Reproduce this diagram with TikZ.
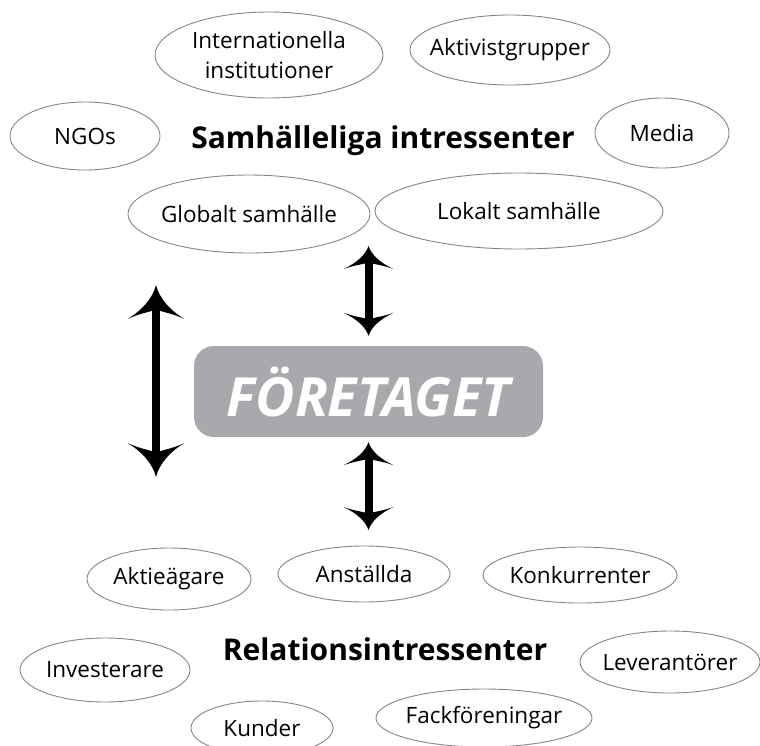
\documentclass[tikz,border=0pt]{standalone}
\usepackage{fontspec}
\setmainfont{Open Sans}
\usetikzlibrary{shapes.geometric,arrows.meta}
\definecolor{boxgray}{HTML}{A7A9AC}
\definecolor{ovalline}{HTML}{858585}

\pgfdeclarearrow{
  name = Flare,
  defaults = {length = 34pt, width = 56pt},
  parameters = {\the\pgfarrowlength,\the\pgfarrowwidth},
  setup code = {
    \pgfarrowssettipend{0pt}
    \pgfarrowssetlineend{-0.6\pgfarrowlength}
    \pgfarrowssetvisualbackend{-0.75\pgfarrowlength}
    \pgfarrowssetbackend{-\pgfarrowlength}
    \pgfarrowshullpoint{0pt}{0pt}
    \pgfarrowshullpoint{-\pgfarrowlength}{0.5\pgfarrowwidth}
    \pgfarrowshullpoint{-\pgfarrowlength}{-0.5\pgfarrowwidth}
    \pgfarrowssavethe\pgfarrowlength
    \pgfarrowssavethe\pgfarrowwidth
  },
  drawing code = {
    \pgfpathmoveto{\pgfpointorigin}
    \pgfpathcurveto{\pgfpoint{-0.4\pgfarrowlength}{0.06\pgfarrowwidth}}{\pgfpoint{-0.75\pgfarrowlength}{0.25\pgfarrowwidth}}{\pgfpoint{-\pgfarrowlength}{0.5\pgfarrowwidth}}
    \pgfpathcurveto{\pgfpoint{-0.86\pgfarrowlength}{0.32\pgfarrowwidth}}{\pgfpoint{-0.8\pgfarrowlength}{0.15\pgfarrowwidth}}{\pgfpoint{-0.75\pgfarrowlength}{0.05\pgfarrowwidth}}
    \pgfpathlineto{\pgfpoint{-0.75\pgfarrowlength}{-0.05\pgfarrowwidth}}
    \pgfpathcurveto{\pgfpoint{-0.8\pgfarrowlength}{-0.15\pgfarrowwidth}}{\pgfpoint{-0.86\pgfarrowlength}{-0.32\pgfarrowwidth}}{\pgfpoint{-\pgfarrowlength}{-0.5\pgfarrowwidth}}
    \pgfpathcurveto{\pgfpoint{-0.75\pgfarrowlength}{-0.25\pgfarrowwidth}}{\pgfpoint{-0.4\pgfarrowlength}{-0.06\pgfarrowwidth}}{\pgfpointorigin}
    \pgfpathclose
    \pgfusepathqfill
  },
}

\tikzset{
  oval/.style={draw=ovalline, line width=0.9pt, ellipse, inner sep=0pt},
  ovaltext/.style={font=\fontsize{22.5}{30}\selectfont, align=center, inner sep=0pt},
  heading/.style={font=\bfseries\fontsize{30}{36}\selectfont, anchor=base, inner sep=0pt},
  firmbox/.style={fill=boxgray, rounded corners=20pt, minimum width=349pt, minimum height=91pt, inner sep=0pt,
    text=white, font=\bfseries\itshape\fontsize{54}{60}\selectfont},
  smallarrow/.style={line width=8pt, arrows={Flare[length=23pt,width=50pt]-Flare[length=23pt,width=50pt]}},
  bigarrow/.style={line width=8pt, arrows={Flare[length=34pt,width=57pt]-Flare[length=34pt,width=57pt]}},
}

\begin{document}
\begin{tikzpicture}[x=1pt, y=-1pt]
\useasboundingbox (0,0) rectangle (760,745);

% societal stakeholders
\node[oval, minimum width=228pt, minimum height=86pt, label={[ovaltext]center:Internationella\\institutioner}] (intl) at (269,55) {};
\node[oval, minimum width=200pt, minimum height=70pt, label={[ovaltext]center:Aktivistgrupper}] (akt) at (510,50) {};
\node[oval, minimum width=150pt, minimum height=68pt, label={[ovaltext]center:NGOs}] (ngo) at (85,136) {};
\node[oval, minimum width=134pt, minimum height=70pt, label={[ovaltext]center:Media}] (media) at (662,133) {};
\node[oval, minimum width=242pt, minimum height=78pt, label={[ovaltext]center:Globalt samhälle}] (glob) at (249,214) {};
\node[oval, minimum width=288pt, minimum height=76pt, label={[ovaltext]center:Lokalt samhälle}] (lok) at (519,211) {};
\node[heading] (samh) at (383,148) {Samhälleliga intressenter};

% company
\node[firmbox] (firm) at (368.5,391.5) {FÖRETAGET};

% relation stakeholders
\node[oval, minimum width=164pt, minimum height=62pt, label={[ovaltext]center:Aktieägare}] (aktie) at (169,579) {};
\node[oval, minimum width=172pt, minimum height=56pt, label={[ovaltext]center:Anställda}] (anst) at (364,574) {};
\node[oval, minimum width=194pt, minimum height=56pt, label={[ovaltext]center:Konkurrenter}] (konk) at (580,575) {};
\node[oval, minimum width=170pt, minimum height=64pt, label={[ovaltext]center:Investerare}] (inv) at (105,670) {};
\node[oval, minimum width=180pt, minimum height=62pt, label={[ovaltext]center:Leverantörer}] (lev) at (670,662) {};
\node[oval, minimum width=142pt, minimum height=54pt, label={[ovaltext]center:Kunder}] (kund) at (262,728) {};
\node[oval, minimum width=216pt, minimum height=58pt, label={[ovaltext]center:Fackföreningar}] (fack) at (484,718) {};
\node[heading] (rel) at (385,660) {Relationsintressenter};

% arrows
\coordinate (socend) at (368.5,246);
\coordinate (relend) at (368.5,530);
\coordinate (lefttop) at (156,285);
\coordinate (leftbot) at (156,477);
\draw[smallarrow, shorten >=10pt] (socend) -- (firm.north);
\draw[smallarrow, shorten <=5pt] (firm.south) -- (relend);
\draw[bigarrow] (lefttop) -- (leftbot);
\end{tikzpicture}
\end{document}
